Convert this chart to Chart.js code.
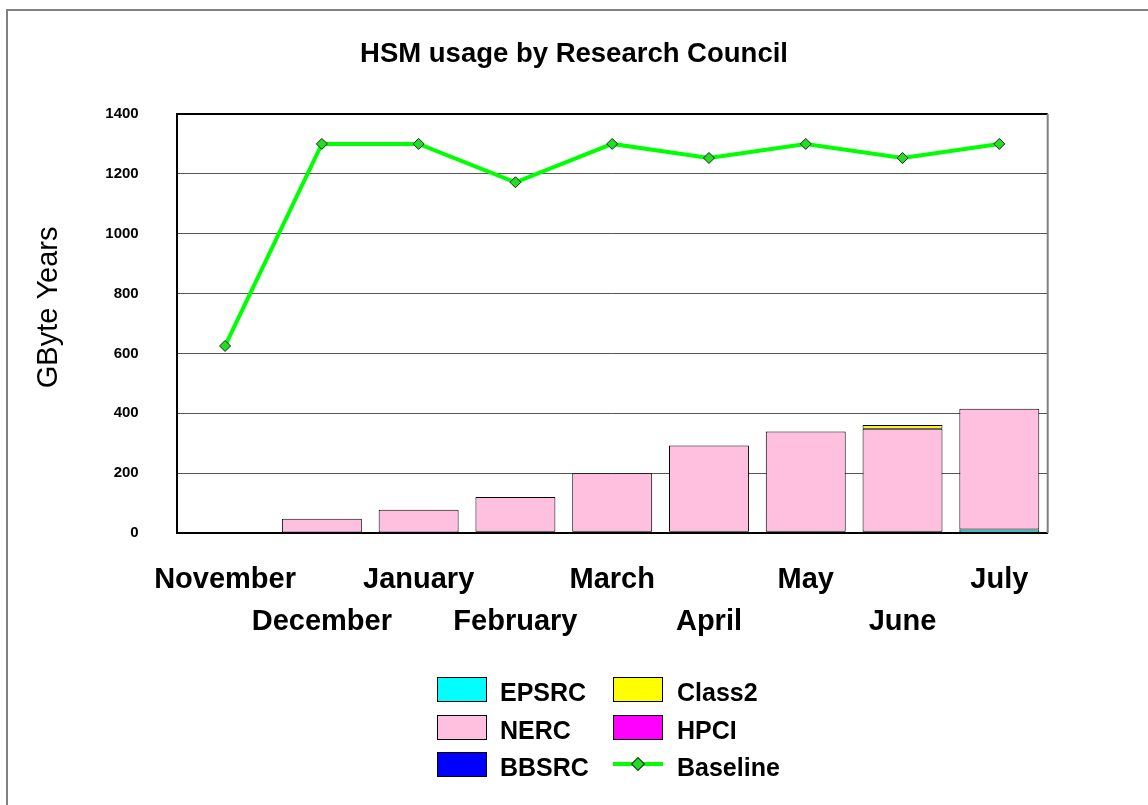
<!DOCTYPE html>
<html>
<head>
<meta charset="utf-8">
<script src="https://cdn.jsdelivr.net/npm/chart.js@4.4.1/dist/chart.umd.min.js"></script>
<style>
  body { margin: 0; background: #fff; }
  #wrap { position: relative; width: 1148px; height: 805px; overflow: hidden;
          font-family: "Liberation Sans", Arial, sans-serif; }
  #frame { position: absolute; left: 6px; top: 9px; right: -10px; bottom: -10px;
           border-left: 2px solid #808080; border-top: 2px solid #808080; }
  canvas { position: absolute; left: 0; top: 0; }
  .lg-box { position: absolute; width: 50px; height: 25px; box-sizing: border-box; border: 1px solid #000; }
  .lg-text { position: absolute; font-weight: bold; font-size: 25px; line-height: 25px; color: #000; white-space: nowrap; }
  .lg-line { position: absolute; width: 50px; height: 4px; }
  .lg-dot { position: absolute; width: 8px; height: 8px; border: 1px solid #222; transform: rotate(45deg); }
</style>
</head>
<body>
<div id="wrap">
  <div id="frame"></div>
  <canvas id="hsmChart" width="1148" height="805"></canvas>
  <div id="legend"></div>
</div>
<script>
// months along the x axis
const months = ['November', 'December', 'January', 'February', 'March', 'April', 'May', 'June', 'July'];

// GByte Years per research council (stacked bars)
const epsrc  = [0, 0, 0, 4, 4, 4, 4, 4, 12];
const nerc   = [0, 48, 78, 116, 196, 288, 335, 344, 403];
const class2 = [0, 0, 0, 0, 0, 0, 0, 13, 0];
const hpci   = [0, 0, 0, 0, 0, 0, 0, 0, 0];
const bbsrc  = [0, 0, 0, 0, 0, 0, 0, 0, 0];

// baseline allocation line
const baseline = [625, 1300, 1300, 1172, 1300, 1253, 1300, 1253, 1300];

// y axis range
const yMin = 0;
const yMax = 1400;
const yStep = 200;

// legend reads row by row, two columns
const legendOrder = ['EPSRC', 'Class2', 'NERC', 'HPCI', 'BBSRC', 'Baseline'];

const FONT = '"Liberation Sans", Arial, sans-serif';

// plot frame: black top edge, grey right edge
const framePlugin = {
    id: 'frame',
    afterDraw(chart) {
        const { ctx, chartArea: a } = chart;
        ctx.save();
        ctx.lineWidth = 2;
        ctx.strokeStyle = '#000';
        ctx.beginPath();
        ctx.moveTo(a.left, a.top);
        ctx.lineTo(a.right, a.top);
        ctx.stroke();
        ctx.strokeStyle = '#808080';
        ctx.beginPath();
        ctx.moveTo(a.right, a.top);
        ctx.lineTo(a.right, a.bottom);
        ctx.stroke();
        ctx.restore();
    }
};

const ctx = document.getElementById('hsmChart').getContext('2d');
const chart = new Chart(ctx, {
    type: 'bar',
    data: {
        // stagger the month names over two rows
        labels: months.map((m, i) => i % 2 === 0 ? [m, ''] : ['', m]),
        datasets: [
            { label: 'EPSRC', data: epsrc, backgroundColor: '#00FFFF' },
            { label: 'NERC', data: nerc, backgroundColor: '#FFC0E0' },
            { label: 'Class2', data: class2, backgroundColor: '#FFFF00' },
            { label: 'HPCI', data: hpci, backgroundColor: '#FF00FF' },
            { label: 'BBSRC', data: bbsrc, backgroundColor: '#0000FF' },
            {
                type: 'line',
                label: 'Baseline',
                data: baseline,
                stack: 'baseline',
                order: -1,
                borderColor: '#00FF00',
                backgroundColor: '#00FF00',
                borderWidth: 4,
                tension: 0,
                pointStyle: 'rectRot',
                pointRadius: 5.5,
                pointBackgroundColor: '#22DD22',
                pointBorderColor: '#222',
                pointBorderWidth: 1
            }
        ]
    },
    options: {
        responsive: false,
        animation: false,
        // equal side padding so the title centres on the page
        layout: { padding: { left: 20, right: 20, top: 10, bottom: 0 } },
        datasets: {
            bar: {
                borderColor: '#000',
                borderWidth: 1,
                borderSkipped: false,
                barPercentage: 0.826,
                categoryPercentage: 1
            }
        },
        plugins: {
            legend: { display: false },
            tooltip: { enabled: false },
            title: {
                display: true,
                text: 'HSM usage by Research Council',
                color: '#000',
                font: { family: FONT, size: 27.5, weight: 'bold', lineHeight: 1.2 },
                padding: { top: 28, bottom: 43 }
            }
        },
        scales: {
            x: {
                stacked: true,
                grid: { display: false, drawTicks: false },
                border: { color: '#000', width: 2 },
                ticks: {
                    autoSkip: false,
                    maxRotation: 0,
                    minRotation: 0,
                    padding: 26,
                    color: '#000',
                    font: { family: FONT, size: 29, weight: 'bold', lineHeight: 1.45 }
                },
                afterFit(scale) { scale.height = 272; }
            },
            y: {
                stacked: true,
                min: yMin,
                max: yMax,
                ticks: {
                    stepSize: yStep,
                    padding: 38,
                    color: '#000',
                    font: { family: FONT, size: 15, weight: 'bold' },
                    callback: v => String(v)
                },
                grid: { color: '#555', drawTicks: false },
                border: { color: '#000', width: 2 },
                title: {
                    display: true,
                    text: '    GByte Years',
                    color: '#000',
                    font: { family: FONT, size: 29, weight: 'normal', lineHeight: 1.2 },
                    padding: { top: 12, bottom: 0 }
                },
                afterFit(scale) { scale.width = 156.7; }
            },
            // empty right-hand box that holds the plot away from the right edge
            yRight: {
                position: 'right',
                min: yMin,
                max: yMax,
                grid: { display: false, drawTicks: false },
                border: { display: false },
                ticks: { display: false },
                afterFit(scale) { scale.width = 80.3; }
            }
        }
    },
    plugins: [framePlugin]
});

// legend built from the chart's own datasets
const legendEl = document.getElementById('legend');
const colBox = [437, 613];
const colText = [500, 677];
const rowTop = [677, 715, 752];
legendOrder.forEach((name, i) => {
    const ds = chart.data.datasets.find(d => d.label === name);
    const col = i % 2, row = Math.floor(i / 2);
    const bx = colBox[col], by = rowTop[row];
    if (ds.type === 'line') {
        const ln = document.createElement('div');
        ln.className = 'lg-line';
        ln.style.left = bx + 'px';
        ln.style.top = (by + 10) + 'px';
        ln.style.background = ds.borderColor;
        legendEl.appendChild(ln);
        const dot = document.createElement('div');
        dot.className = 'lg-dot';
        dot.style.left = (bx + 20) + 'px';
        dot.style.top = (by + 7) + 'px';
        dot.style.background = ds.pointBackgroundColor;
        legendEl.appendChild(dot);
    } else {
        const box = document.createElement('div');
        box.className = 'lg-box';
        box.style.left = bx + 'px';
        box.style.top = by + 'px';
        box.style.background = ds.backgroundColor;
        legendEl.appendChild(box);
    }
    const t = document.createElement('div');
    t.className = 'lg-text';
    t.style.left = colText[col] + 'px';
    t.style.top = (by + 3) + 'px';
    t.textContent = name;
    legendEl.appendChild(t);
});
</script>
</body>
</html>
